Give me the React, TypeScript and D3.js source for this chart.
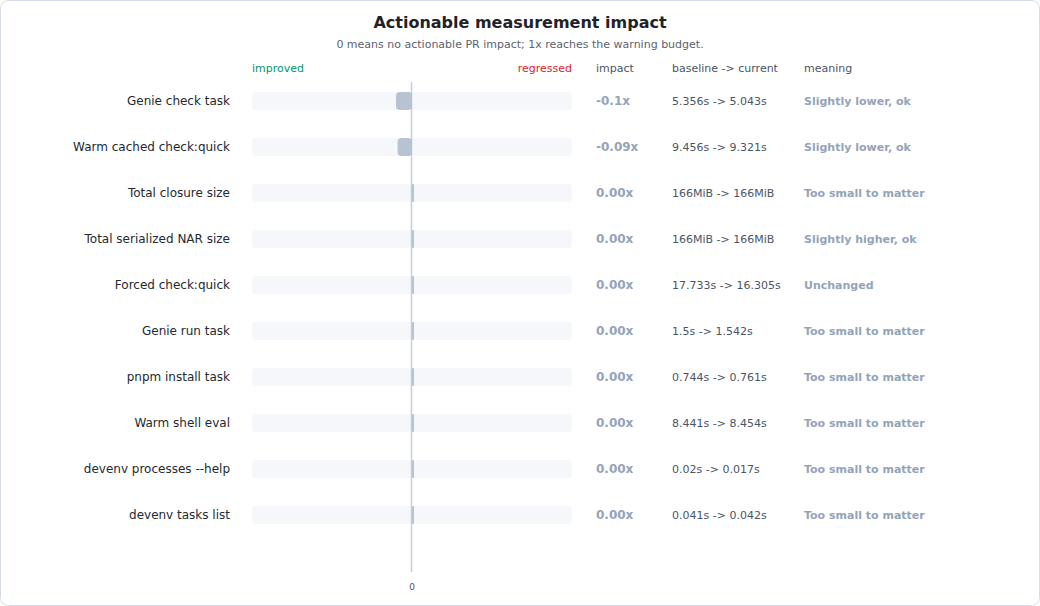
import React from 'react';
import * as d3 from 'd3';

const metrics = [
  'Genie check task',
  'Warm cached check:quick',
  'Total closure size',
  'Total serialized NAR size',
  'Forced check:quick',
  'Genie run task',
  'pnpm install task',
  'Warm shell eval',
  'devenv processes --help',
  'devenv tasks list',
];
const impacts = [-0.1, -0.09, 0, 0, 0, 0, 0, 0, 0, 0];
const impactLabels = ['-0.1x', '-0.09x', '0.00x', '0.00x', '0.00x', '0.00x', '0.00x', '0.00x', '0.00x', '0.00x'];
const changes = [
  '5.356s -> 5.043s',
  '9.456s -> 9.321s',
  '166MiB -> 166MiB',
  '166MiB -> 166MiB',
  '17.733s -> 16.305s',
  '1.5s -> 1.542s',
  '0.744s -> 0.761s',
  '8.441s -> 8.454s',
  '0.02s -> 0.017s',
  '0.041s -> 0.042s',
];
const meanings = [
  'Slightly lower, ok',
  'Slightly lower, ok',
  'Too small to matter',
  'Slightly higher, ok',
  'Unchanged',
  'Too small to matter',
  'Too small to matter',
  'Too small to matter',
  'Too small to matter',
  'Too small to matter',
];
const xTicks = [0];

const W = 1040;
const H = 606;
const FONT = '"DejaVu Sans", sans-serif';

export default function App() {
  const x = d3.scaleLinear().domain([-1, 1]).range([252, 572]);
  const y = d3.scaleBand<string>().domain(metrics).range([78, 538]).padding(0);
  const barH = 18;
  const cy = (m: string) => (y(m) || 0) + y.bandwidth() / 2;

  return (
    <svg
      width={W}
      height={H}
      style={{ position: 'absolute', left: 0, top: 0, fontFamily: FONT }}
    >
      <rect x={0.5} y={0.5} width={W - 1} height={H - 1} rx={8} fill="#fff" stroke="#d6dce5" />
      <text x={W / 2} y={22} textAnchor="middle" dominantBaseline="central" fontSize={16} fontWeight="bold" fill="#1f2328">
        Actionable measurement impact
      </text>
      <text x={W / 2} y={44} textAnchor="middle" dominantBaseline="central" fontSize={11} fill="#5b6270">
        0 means no actionable PR impact; 1x reaches the warning budget.
      </text>

      <text x={x(-1)} y={68} dominantBaseline="central" fontSize={11} fill="#059669">improved</text>
      <text x={x(1)} y={68} textAnchor="end" dominantBaseline="central" fontSize={11} fill="#dc2626">regressed</text>
      <text x={596} y={68} dominantBaseline="central" fontSize={11} fill="#4b5563">impact</text>
      <text x={672} y={68} dominantBaseline="central" fontSize={11} fill="#4b5563">baseline -&gt; current</text>
      <text x={804} y={68} dominantBaseline="central" fontSize={11} fill="#4b5563">meaning</text>

      {metrics.map((m, i) => {
        const c = cy(m);
        return (
          <g key={m}>
            <rect x={x(-1)} y={c - barH / 2} width={x(1) - x(-1)} height={barH} rx={4} fill="#f5f7fa" />
            <text x={230} y={c} textAnchor="end" dominantBaseline="central" fontSize={12} fill="#24292f">{m}</text>
            <text x={596} y={c} dominantBaseline="central" fontSize={12} fontWeight="bold" fill="#94a3b8">{impactLabels[i]}</text>
            <text x={672} y={c} dominantBaseline="central" fontSize={11} fill="#4b5563">{changes[i]}</text>
            <text x={804} y={c} dominantBaseline="central" fontSize={11} fontWeight="bold" fill="#94a3b8">{meanings[i]}</text>
          </g>
        );
      })}

      <line x1={x(0) - 0.5} x2={x(0) - 0.5} y1={82} y2={572} stroke="#c8ced7" strokeWidth={1.5} />

      {metrics.map((m, i) => {
        const c = cy(m);
        const v = impacts[i];
        const x0 = x(Math.min(0, v));
        const x1 = x(Math.max(0, v));
        const w = Math.max(2, x1 - x0);
        return (
          <rect
            key={m}
            x={x0}
            y={c - barH / 2}
            width={w}
            height={barH}
            rx={Math.min(4, w / 2)}
            fill="#b7c3d1"
          />
        );
      })}

      {xTicks.map((t) => (
        <text key={t} x={x(t)} y={587} textAnchor="middle" dominantBaseline="central" fontSize={9} fill="#4b5563">
          {t}
        </text>
      ))}
    </svg>
  );
}
